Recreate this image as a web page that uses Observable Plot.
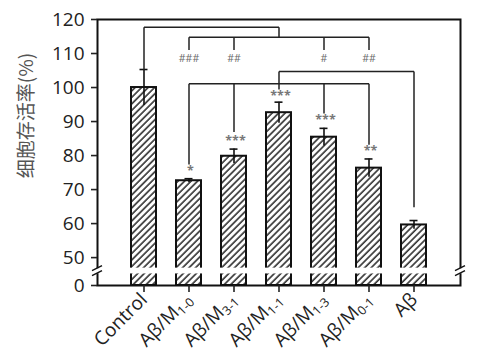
<!DOCTYPE html>
<html><head><meta charset="utf-8">
<script src="https://cdn.jsdelivr.net/npm/d3@7"></script>
<script src="https://cdn.jsdelivr.net/npm/@observablehq/plot@0.6"></script>
<style>
body{margin:0;background:#fff}
#chart svg{display:block}
</style>
</head><body><div id="chart"></div>
<script>
// ---- data ----
const groups = ["Control", "Aβ/M1-0", "Aβ/M3-1", "Aβ/M1-1", "Aβ/M1-3", "Aβ/M0-1", "Aβ"];
const values = [100, 72.6, 79.8, 92.6, 85.4, 76.3, 59.6];
const errors = [5.3, 0.6, 2.1, 3.1, 2.6, 2.7, 1.3];
const starLabels = ["", "*", "***", "***", "***", "**", ""];
const starY = [null, 75.6, 84.4, 97.4, 90.6, 81.3, null];
const hashLabels = ["", "###", "##", "", "#", "##", ""];
const hashY = 108.4;
const yTicks = [0, 50, 60, 70, 80, 90, 100, 110, 120];
const yLabel = "细胞存活率(%)";
// broken axis: the value 0 is drawn at this position, the gap sits between breakLow and breakHigh
const axisZero = 41.8;
const breakLow = 45.2, breakHigh = 46.9, breakMid = 46.0;
// comparison brackets (x = group, y = value level)
const segments = [
  {x1: "Control", y1: 105.3, x2: "Control", y2: 117.7},
  {x1: "Control", y1: 117.7, x2: "Aβ/M1-1", y2: 117.7},
  {x1: "Aβ/M1-1", y1: 117.7, x2: "Aβ/M1-1", y2: 114.8},
  {x1: "Aβ/M1-0", y1: 114.8, x2: "Aβ/M0-1", y2: 114.8},
  {x1: "Aβ/M1-0", y1: 114.8, x2: "Aβ/M1-0", y2: 111.0},
  {x1: "Aβ/M3-1", y1: 114.8, x2: "Aβ/M3-1", y2: 111.0},
  {x1: "Aβ/M1-3", y1: 114.8, x2: "Aβ/M1-3", y2: 111.0},
  {x1: "Aβ/M0-1", y1: 114.8, x2: "Aβ/M0-1", y2: 111.0},
  {x1: "Aβ/M1-1", y1: 99.4, x2: "Aβ/M1-1", y2: 104.7},
  {x1: "Aβ/M1-1", y1: 104.7, x2: "Aβ", y2: 104.7},
  {x1: "Aβ", y1: 104.7, x2: "Aβ", y2: 64.8},
  {x1: "Aβ/M1-0", y1: 101.1, x2: "Aβ/M0-1", y2: 101.1},
  {x1: "Aβ/M1-0", y1: 101.1, x2: "Aβ/M1-0", y2: 77.4},
  {x1: "Aβ/M3-1", y1: 101.1, x2: "Aβ/M3-1", y2: 86.9},
  {x1: "Aβ/M1-3", y1: 101.1, x2: "Aβ/M1-3", y2: 92.4},
  {x1: "Aβ/M0-1", y1: 101.1, x2: "Aβ/M0-1", y2: 83.2}
];

const rows = groups.map((g, i) => ({group: g, value: values[i], error: errors[i],
  star: starLabels[i], starY: starY[i], hash: hashLabels[i]}));
const yTickPos = yTicks.map(t => t === 0 ? axisZero : t);

const chart = Plot.plot({
  width: 478, height: 356,
  marginLeft: 97, marginRight: 18, marginTop: 19, marginBottom: 71,
  style: {fontFamily: "'Open Sans', sans-serif", color: "#111", background: "white", overflow: "visible"},
  x: {domain: groups, paddingInner: 0.45, paddingOuter: 0.73},
  y: {domain: [axisZero, 120]},
  marks: [
    Plot.barY(rows, {x: "group", y1: axisZero, y2: "value", fill: "url(#hatch)", stroke: "#111", strokeWidth: 2}),
    Plot.barY(rows, {x: "group", y1: breakLow, y2: breakHigh, fill: "white", insetLeft: -2, insetRight: -2}),
    Plot.ruleX(rows, {x: "group", y1: d => d.value - d.error, y2: d => d.value + d.error, stroke: "#111", strokeWidth: 1.6}),
    Plot.tickY(rows, {x: "group", y: d => d.value + d.error, insetLeft: 8.5, insetRight: 8.5, stroke: "#111", strokeWidth: 1.6}),
    Plot.link(segments, {x1: "x1", y1: "y1", x2: "x2", y2: "y2", stroke: "#222", strokeWidth: 1.5}),
    Plot.text(rows.filter(d => d.star), {x: "group", y: "starY", text: "star", fontSize: 12.5, fill: "#777", fontWeight: "bold", letterSpacing: 3, dx: 1.5}),
    Plot.text(rows.filter(d => d.hash), {x: "group", y: hashY, text: "hash", fontSize: 10.5, fill: "#6a6a6a"}),
    Plot.frame({stroke: "#111", strokeWidth: 2}),
    Plot.axisY({ticks: yTickPos, tickFormat: d => d === axisZero ? "0" : d, tickSize: 6, tickPadding: 7,
      fontSize: 19, strokeWidth: 1.6, label: null, color: "#222"}),
    Plot.axisX({tickSize: 7, tickRotate: -45, tickPadding: 4, fontSize: 19, strokeWidth: 1.6, label: null, color: "#222"}),
    Plot.text([yLabel], {frameAnchor: "left", text: d => d, rotate: -90, dx: -71, dy: -37,
      textAnchor: "middle", lineAnchor: "middle",
      fontSize: 19, fill: "#555", fontFamily: "'Noto Sans CJK SC', sans-serif"})
  ]
});

const svg = d3.select(chart.tagName === "svg" ? chart : chart.querySelector("svg"));
// hatch pattern
const defs = svg.insert("defs", ":first-child");
const pat = defs.append("pattern").attr("id", "hatch").attr("patternUnits", "userSpaceOnUse")
  .attr("width", 4.6).attr("height", 4.6).attr("patternTransform", "rotate(45)");
pat.append("rect").attr("width", 4.6).attr("height", 4.6).attr("fill", "white");
pat.append("line").attr("x1", 1).attr("y1", 0).attr("x2", 1).attr("y2", 4.6).attr("stroke", "#111").attr("stroke-width", 1.4);

// subscripts in x tick labels
svg.selectAll('g[aria-label="x-axis tick label"] text').each(function() {
  const t = this.textContent;
  const m = t.match(/^(Aβ\/M)(.+)$/);
  if (m) {
    const sel = d3.select(this);
    sel.text("");
    sel.append("tspan").text(m[1]);
    sel.append("tspan").attr("dy", 3).attr("font-size", 12.5).text(m[2]);
  }
});

// axis breaks
const ys = chart.scale("y"), xs = chart.scale("x");
const yb = ys.apply(breakMid);
const [xl, xr] = xs.range;
const brk = svg.append("g");
for (const x0 of [xl, xr]) {
  brk.append("rect").attr("x", x0 - 3).attr("y", yb - 2.5).attr("width", 6).attr("height", 5).attr("fill", "white");
  for (const off of [-2.5, 2.5]) {
    brk.append("line").attr("x1", x0 - 5).attr("y1", yb + off + 2.5).attr("x2", x0 + 5).attr("y2", yb + off - 2.5)
      .attr("stroke", "#111").attr("stroke-width", 1.4);
  }
}
document.getElementById("chart").append(chart);
</script>
</body></html>
